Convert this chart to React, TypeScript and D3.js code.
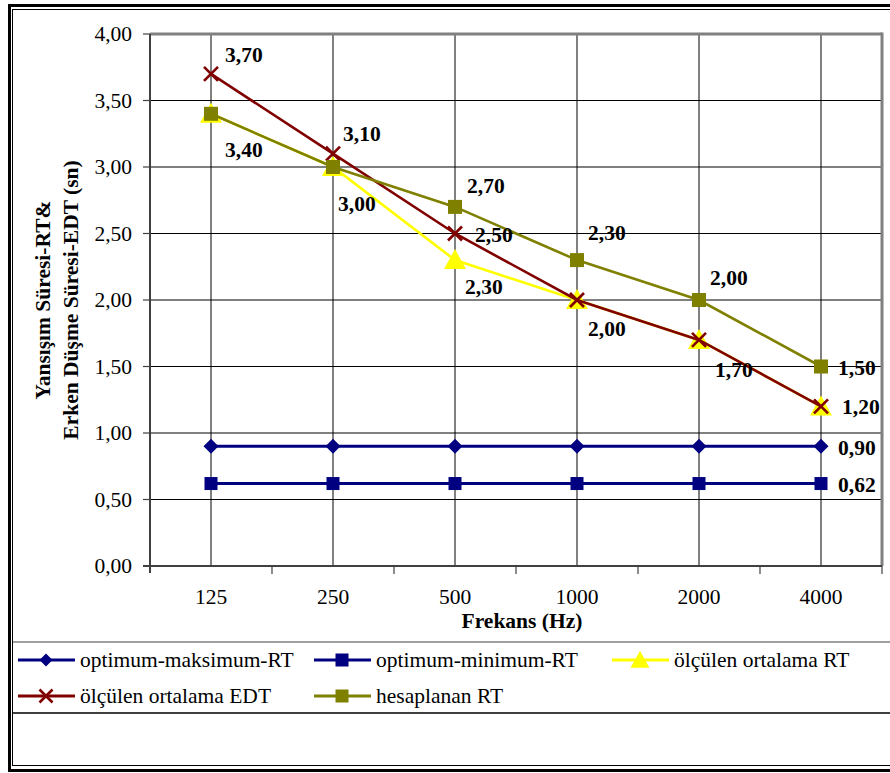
import React from "react";
import * as d3 from "d3";

const categories = ["125", "250", "500", "1000", "2000", "4000"];
const yTicks = [0, 0.5, 1, 1.5, 2, 2.5, 3, 3.5, 4];

const optMax = [0.9, 0.9, 0.9, 0.9, 0.9, 0.9];
const optMin = [0.62, 0.62, 0.62, 0.62, 0.62, 0.62];
const measRT = [3.4, 3.0, 2.3, 2.0, 1.7, 1.2];
const measEDT = [3.7, 3.1, 2.5, 2.0, 1.7, 1.2];
const calcRT = [3.4, 3.0, 2.7, 2.3, 2.0, 1.5];

const seriesNames = [
  "optimum-maksimum-RT",
  "optimum-minimum-RT",
  "ölçülen ortalama RT",
  "ölçülen ortalama EDT",
  "hesaplanan RT",
];

// label placement: [pointIndex, dx, dy]
const labelsOptMax: [number, number, number][] = [[5, 17, 9]];
const labelsOptMin: [number, number, number][] = [[5, 17, 8]];
const labelsRT: [number, number, number][] = [
  [0, 14, 43],
  [1, 5, 44],
  [2, 10, 34],
  [3, 11, 36],
  [4, 16, 37],
  [5, 21, 8],
];
const labelsEDT: [number, number, number][] = [
  [0, 14, -12],
  [1, 10, -13],
  [2, 20, 8],
];
const labelsCalc: [number, number, number][] = [
  [2, 12, -14],
  [3, 11, -20],
  [4, 11, -15],
  [5, 17, 8],
];

const FONT = "'Liberation Serif', 'Times New Roman', serif";
const FS = 21.5;
const NAVY = "#000080";
const YELLOW = "#FFFF00";
const DARKRED = "#800000";
const OLIVE = "#808000";

type Marker = "diamond" | "square" | "triangle" | "x";

function MarkerShape({ type, x, y, color, size }: { type: Marker; x: number; y: number; color: string; size: number }) {
  const h = size / 2;
  if (type === "diamond") {
    return <path d={`M${x},${y - h} L${x + h},${y} L${x},${y + h} L${x - h},${y} Z`} fill={color} />;
  }
  if (type === "square") {
    return <rect x={x - h} y={y - h} width={size} height={size} fill={color} />;
  }
  if (type === "triangle") {
    const w = size * 0.55;
    return <path d={`M${x},${y - size * 0.55} L${x + w},${y + size * 0.45} L${x - w},${y + size * 0.45} Z`} fill={color} />;
  }
  return (
    <g stroke={color} strokeWidth={2.6}>
      <line x1={x - h} y1={y - h} x2={x + h} y2={y + h} />
      <line x1={x - h} y1={y + h} x2={x + h} y2={y - h} />
    </g>
  );
}

export default function App() {
  const W = 890;
  const H = 773;
  const left = 150;
  const right = 882;
  const top = 34;
  const bottom = 566;

  const x = d3.scaleBand<string>().domain(categories).range([left, right]).paddingInner(0).paddingOuter(0);
  const y = d3.scaleLinear().domain([0, 4]).range([bottom, top]);
  const cx = (i: number) => (x(categories[i]) as number) + x.bandwidth() / 2;
  const fmt = (v: number) => v.toFixed(2).replace(".", ",");

  const line = d3
    .line<number>()
    .x((_, i) => cx(i))
    .y((d) => y(d));

  const series = [
    { name: seriesNames[0], data: optMax, color: NAVY, marker: "diamond" as Marker, size: 15, width: 3, labels: labelsOptMax },
    { name: seriesNames[1], data: optMin, color: NAVY, marker: "square" as Marker, size: 13, width: 3, labels: labelsOptMin },
    { name: seriesNames[2], data: measRT, color: YELLOW, marker: "triangle" as Marker, size: 20, width: 2.6, labels: labelsRT },
    { name: seriesNames[3], data: measEDT, color: DARKRED, marker: "x" as Marker, size: 14, width: 2.6, labels: labelsEDT },
    { name: seriesNames[4], data: calcRT, color: OLIVE, marker: "square" as Marker, size: 14, width: 2.6, labels: labelsCalc },
  ];

  const legendItems = [
    { s: series[0], lx: 18, ly: 660 },
    { s: series[1], lx: 314, ly: 660 },
    { s: series[2], lx: 612, ly: 660 },
    { s: series[3], lx: 18, ly: 696 },
    { s: series[4], lx: 314, ly: 696 },
  ];

  return (
    <svg
      width={W}
      height={H}
      style={{ position: "absolute", left: 0, top: 0, background: "#fff" }}
      fontFamily={FONT}
    >
      <rect x={0} y={0} width={W} height={H} fill="#fff" />
      {/* outer double border */}
      <rect x={9.5} y={5.5} width={W + 20} height={H - 8} fill="none" stroke="#000" strokeWidth={3} />
      <rect x={12.5} y={9.5} width={W + 20} height={H - 17} fill="none" stroke="#000" strokeWidth={1} />

      {/* vertical gridlines */}
      {categories.map((c, i) => (
        <line key={"vg" + c} x1={cx(i)} x2={cx(i)} y1={top} y2={bottom} stroke="#808080" strokeWidth={2} />
      ))}
      {/* horizontal gridlines */}
      {yTicks.filter((t) => t > 0 && t < 4).map((t) => (
        <line key={"hg" + t} x1={left} x2={right} y1={y(t)} y2={y(t)} stroke="#000" strokeWidth={1} />
      ))}
      {/* plot border top/right */}
      <line x1={left} x2={right} y1={top} y2={top} stroke="#808080" strokeWidth={3} />
      <line x1={right} x2={right} y1={top - 1.5} y2={bottom} stroke="#808080" strokeWidth={3} />

      {/* axes */}
      <line x1={left} x2={left} y1={top} y2={bottom + 7} stroke="#404040" strokeWidth={2} />
      <line x1={left - 7} x2={right} y1={bottom} y2={bottom} stroke="#404040" strokeWidth={2} />
      {yTicks.map((t) => (
        <g key={"yt" + t}>
          <line x1={left - 7} x2={left} y1={y(t)} y2={y(t)} stroke="#404040" strokeWidth={1.2} />
          <text x={left - 18} y={y(t) + 7} textAnchor="end" fontSize={FS} fill="#000">
            {fmt(t)}
          </text>
        </g>
      ))}
      {categories.map((c) => (
        <line key={"xt" + c} x1={(x(c) as number) + x.bandwidth()} x2={(x(c) as number) + x.bandwidth()} y1={bottom} y2={bottom + 8} stroke="#404040" strokeWidth={1.2} />
      ))}
      {categories.map((c, i) => (
        <text key={"xl" + c} x={cx(i)} y={604} textAnchor="middle" fontSize={FS} fill="#000">
          {c}
        </text>
      ))}
      <text x={522} y={628} textAnchor="middle" fontSize={FS} fontWeight="bold" fill="#000">
        Frekans (Hz)
      </text>
      <g transform={`translate(50,${(top + bottom) / 2}) rotate(-90)`}>
        <text x={0} y={0} textAnchor="middle" fontSize={FS} fontWeight="bold" fill="#000">
          Yansışım Süresi-RT&amp;
        </text>
      </g>
      <g transform={`translate(78,${(top + bottom) / 2}) rotate(-90)`}>
        <text x={0} y={0} textAnchor="middle" fontSize={FS} fontWeight="bold" fill="#000">
          Erken Düşme Süresi-EDT (sn)
        </text>
      </g>

      {/* series */}
      {series.map((s) => (
        <g key={s.name}>
          <path d={line(s.data) as string} fill="none" stroke={s.color} strokeWidth={s.width} />
          {s.data.map((v, i) => (
            <MarkerShape key={i} type={s.marker} x={cx(i)} y={y(v)} color={s.color} size={s.size} />
          ))}
        </g>
      ))}
      {/* data labels */}
      {series.map((s) =>
        s.labels.map(([i, dx, dy]) => (
          <text key={s.name + "l" + i} x={cx(i) + dx} y={y(s.data[i]) + dy} fontSize={FS} fontWeight="bold" fill="#000">
            {fmt(s.data[i])}
          </text>
        ))
      )}

      {/* legend box */}
      <line x1={13} x2={W} y1={642} y2={642} stroke="#808080" strokeWidth={1.5} />
      <line x1={13} x2={W} y1={713} y2={713} stroke="#000" strokeWidth={1.5} />
      {legendItems.map(({ s, lx, ly }) => (
        <g key={"lg" + s.name}>
          <line x1={lx} x2={lx + 57} y1={ly} y2={ly} stroke={s.color} strokeWidth={3} />
          <MarkerShape type={s.marker} x={lx + 28} y={ly} color={s.color} size={s.marker === "triangle" ? 17 : 13} />
          <text x={lx + 62} y={ly + 7} fontSize={FS} fill="#000">
            {s.name}
          </text>
        </g>
      ))}
    </svg>
  );
}
